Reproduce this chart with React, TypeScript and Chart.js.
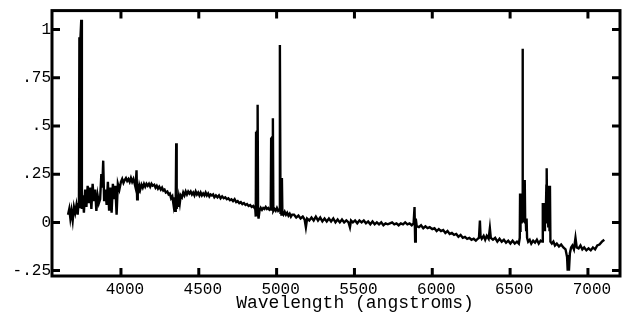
import { useEffect, useRef } from 'react';
import { Chart, registerables } from 'chart.js';

Chart.register(...registerables);

// [wavelength (Å), relative flux] by spectral region
const blueSpectrum: [number, number][] = [
  [3660, 0.04], [3668, 0.07], [3675, 0.02], [3682, 0.06], [3690, 0.01], [3698, 0.08], [3706, 0.05],
  [3714, 0.09], [3722, 0.04], [3727, 0.1], [3730, 0.08], [3733, 0.96], [3737, 0.08], [3740, 0.96],
  [3745, 1.05], [3749, 0.07],
  [3755, 0.14], [3762, 0.05], [3770, 0.17], [3778, 0.08], [3786, 0.19], [3794, 0.1], [3802, 0.18],
  [3810, 0.07], [3818, 0.2], [3826, 0.11], [3834, 0.17], [3842, 0.06], [3850, 0.14], [3858, 0.1],
  [3866, 0.12], [3874, 0.25], [3880, 0.18], [3886, 0.32], [3892, 0.11], [3900, 0.17], [3908, 0.09],
  [3916, 0.21], [3924, 0.06], [3932, 0.18], [3940, 0.05], [3948, 0.2], [3956, 0.12], [3964, 0.19],
  [3972, 0.04], [3980, 0.2], [3990, 0.17],
];

const violetSpectrum: [number, number][] = [
  [4000, 0.21], [4008, 0.225], [4016, 0.205], [4024, 0.22], [4032, 0.23], [4040, 0.215], [4048, 0.225],
  [4056, 0.21], [4064, 0.23], [4072, 0.21], [4080, 0.225], [4088, 0.2], [4094, 0.18], [4100, 0.27],
  [4104, 0.12], [4108, 0.2], [4112, 0.15], [4118, 0.19], [4124, 0.17], [4132, 0.195], [4140, 0.18],
  [4148, 0.2], [4156, 0.185], [4164, 0.2], [4172, 0.19], [4180, 0.2], [4188, 0.185], [4196, 0.2],
  [4204, 0.19], [4214, 0.195], [4222, 0.18], [4230, 0.19], [4238, 0.175], [4246, 0.185], [4256, 0.17],
  [4264, 0.18], [4272, 0.165], [4280, 0.17], [4288, 0.155], [4298, 0.16], [4306, 0.145], [4314, 0.15],
  [4322, 0.125], [4330, 0.135], [4338, 0.09], [4344, 0.13], [4348, 0.06], [4352, 0.12], [4355, 0.41],
  [4358, 0.07], [4362, 0.12], [4366, 0.08], [4372, 0.13], [4378, 0.1], [4384, 0.14], [4392, 0.13],
  [4400, 0.155], [4408, 0.14], [4416, 0.16], [4424, 0.145], [4432, 0.16], [4440, 0.15], [4448, 0.16],
  [4456, 0.145], [4464, 0.155], [4472, 0.14], [4480, 0.16], [4488, 0.145], [4496, 0.155],
];

const greenSpectrum: [number, number][] = [
  [4504, 0.14], [4512, 0.155], [4520, 0.14], [4528, 0.15], [4536, 0.14], [4544, 0.155], [4552, 0.14],
  [4560, 0.15], [4568, 0.135], [4576, 0.145], [4584, 0.14], [4592, 0.145], [4600, 0.13], [4610, 0.14],
  [4620, 0.13], [4630, 0.14], [4640, 0.125], [4650, 0.135], [4660, 0.125], [4670, 0.13], [4680, 0.12],
  [4690, 0.125], [4700, 0.115], [4710, 0.12], [4720, 0.11], [4730, 0.12], [4740, 0.105], [4750, 0.11],
  [4760, 0.1], [4770, 0.105], [4780, 0.095], [4790, 0.1], [4800, 0.09], [4810, 0.095], [4820, 0.085],
  [4830, 0.09], [4840, 0.08], [4850, 0.085], [4858, 0.075], [4862, 0.08], [4866, 0.03], [4868, 0.47],
  [4871, 0.05], [4874, 0.47], [4878, 0.61], [4881, 0.04], [4884, 0.02], [4890, 0.06], [4898, 0.075],
  [4906, 0.065], [4914, 0.075], [4922, 0.07], [4930, 0.08], [4938, 0.07], [4946, 0.075], [4954, 0.065],
  [4962, 0.07], [4965, 0.44], [4969, 0.06], [4972, 0.44], [4976, 0.54], [4979, 0.06], [4986, 0.07],
  [4994, 0.06], [5002, 0.075], [5010, 0.06], [5016, 0.065], [5021, 0.92], [5025, 0.05], [5028, 0.23],
  [5031, 0.04], [5034, 0.23], [5037, 0.05], [5044, 0.04], [5052, 0.055], [5060, 0.04], [5068, 0.05],
  [5076, 0.035], [5084, 0.045], [5092, 0.03], [5100, 0.04],
];

const yellowSpectrum: [number, number][] = [
  [5112, 0.04], [5126, 0.025], [5140, 0.035], [5154, 0.02], [5168, 0.03], [5180, 0.015], [5188, -0.025],
  [5196, 0.02], [5210, 0.01], [5224, 0.025], [5238, 0.01], [5252, 0.03], [5266, 0.01], [5280, 0.025],
  [5294, 0.005], [5308, 0.02], [5322, 0.005], [5336, 0.02], [5350, 0.005], [5364, 0.02], [5378, 0],
  [5392, 0.015], [5406, 0], [5420, 0.015], [5434, 0], [5448, 0.01], [5462, 0], [5471, -0.025],
  [5478, 0.01], [5490, 0], [5504, 0.01], [5518, -0.005], [5532, 0.01], [5546, 0], [5560, 0.01],
  [5574, -0.005], [5588, 0.005], [5602, -0.01], [5616, 0.005], [5630, -0.01], [5644, 0], [5658, -0.01],
  [5672, 0], [5686, -0.015], [5700, -0.005], [5714, -0.01], [5728, -0.005], [5742, 0], [5756, -0.01],
  [5770, -0.005], [5784, -0.015], [5798, -0.005], [5812, -0.01], [5826, 0], [5840, -0.01],
  [5854, -0.005], [5868, -0.015], [5880, -0.005], [5886, 0.08], [5890, -0.1], [5894, 0.02],
];

const redSpectrum: [number, number][] = [
  [5900, -0.02], [5914, -0.025], [5928, -0.015], [5942, -0.03], [5956, -0.02], [5970, -0.03],
  [5984, -0.025], [6000, -0.035], [6014, -0.03], [6028, -0.045], [6042, -0.035], [6056, -0.045],
  [6070, -0.04], [6084, -0.055], [6098, -0.045], [6112, -0.06], [6126, -0.055], [6140, -0.065],
  [6154, -0.06], [6168, -0.075], [6182, -0.065], [6196, -0.08], [6210, -0.075], [6224, -0.085],
  [6238, -0.08], [6252, -0.09], [6266, -0.085], [6280, -0.095], [6292, -0.085], [6300, -0.08],
  [6306, 0.01], [6310, -0.07], [6318, -0.085], [6330, -0.07], [6340, -0.09], [6350, -0.07],
  [6362, -0.085], [6370, -0.03], [6376, -0.08], [6390, -0.09], [6404, -0.08], [6418, -0.1],
  [6432, -0.085], [6446, -0.1], [6460, -0.09], [6474, -0.105], [6488, -0.095], [6502, -0.11],
  [6516, -0.095], [6530, -0.11], [6544, -0.1], [6556, -0.11],
];

const deepRedSpectrum: [number, number][] = [
  [6562, -0.08], [6564, 0.15], [6566, -0.05], [6568, 0.15], [6571, 0.0], [6574, 0.15], [6577, 0.05],
  [6580, 0.9], [6582, 0.1], [6584, 0.22], [6586, 0.0], [6588, 0.22], [6591, 0.02], [6594, 0.22],
  [6597, 0.0], [6600, 0.02], [6603, -0.04], [6606, 0.02], [6609, -0.08], [6616, -0.1], [6626, -0.09],
  [6636, -0.11], [6648, -0.095], [6660, -0.105], [6672, -0.09], [6684, -0.11], [6696, -0.095],
  [6706, -0.1], [6710, 0.1], [6713, -0.04], [6716, 0.1], [6720, -0.04], [6724, 0.1], [6728, 0.0],
  [6733, 0.19], [6735, 0.28], [6738, 0.0], [6741, 0.19], [6745, -0.02], [6749, 0.19], [6753, -0.04],
  [6756, 0.19], [6759, -0.1], [6768, -0.11], [6778, -0.1], [6788, -0.12], [6800, -0.11],
  [6814, -0.125], [6828, -0.115], [6842, -0.13], [6856, -0.14], [6866, -0.18], [6870, -0.25],
  [6874, -0.17], [6878, -0.25], [6884, -0.16], [6892, -0.13], [6900, -0.12], [6910, -0.14],
  [6920, -0.08], [6928, -0.13], [6940, -0.135], [6952, -0.12], [6964, -0.14], [6976, -0.13],
  [6990, -0.145], [7004, -0.135], [7018, -0.145], [7032, -0.13], [7046, -0.14], [7060, -0.12],
  [7074, -0.115], [7090, -0.1], [7105, -0.09],
];

const xTickValues = [4000, 4500, 5000, 5500, 6000, 6500, 7000];
const yTickValues = [1, 0.75, 0.5, 0.25, 0, -0.25];
const yTickLabels = ['1', '.75', '.5', '.25', '0', '-.25'];
const xAxisTitle = 'Wavelength (angstroms)';

const FONT = '"Liberation Mono", "DejaVu Sans Mono", monospace';

const framePlugin = {
  id: 'frameTicks',
  afterDraw(chart: any) {
    const { ctx, chartArea: a, scales } = chart;
    ctx.save();
    ctx.strokeStyle = '#000';
    ctx.lineWidth = 3;
    ctx.strokeRect(a.left, a.top, a.right - a.left, a.bottom - a.top);
    const len = 8;
    ctx.beginPath();
    for (const v of xTickValues) {
      const x = scales.x.getPixelForValue(v);
      ctx.moveTo(x, a.bottom);
      ctx.lineTo(x, a.bottom - len);
      ctx.moveTo(x, a.top);
      ctx.lineTo(x, a.top + len);
    }
    for (const v of yTickValues) {
      const y = scales.y.getPixelForValue(v);
      ctx.moveTo(a.left, y);
      ctx.lineTo(a.left + len, y);
      ctx.moveTo(a.right, y);
      ctx.lineTo(a.right - len, y);
    }
    ctx.stroke();
    ctx.font = `18px ${FONT}`;
    ctx.fillStyle = '#000';
    ctx.textAlign = 'center';
    ctx.textBaseline = 'middle';
    ctx.fillText(xAxisTitle, a.left + 303, a.bottom + 27);
    ctx.restore();
  },
};

export default function App() {
  const ref = useRef<HTMLCanvasElement>(null);
  useEffect(() => {
    if (!ref.current) return;
    const points = [
      ...blueSpectrum,
      ...violetSpectrum,
      ...greenSpectrum,
      ...yellowSpectrum,
      ...redSpectrum,
      ...deepRedSpectrum,
    ].map(([x, y]) => ({ x, y }));
    const chart = new Chart(ref.current, {
      type: 'line',
      data: {
        datasets: [
          {
            data: points,
            borderColor: '#000',
            borderWidth: 2.4,
            pointRadius: 0,
            fill: false,
            tension: 0,
          },
        ],
      },
      options: {
        animation: false,
        responsive: false,
        devicePixelRatio: 1,
        layout: { padding: { top: 9, right: 3, left: 0, bottom: 0 } },
        plugins: { legend: { display: false }, tooltip: { enabled: false } },
        scales: {
          x: {
            type: 'linear',
            min: 3557,
            max: 7206,
            afterBuildTicks: (s: any) => {
              s.ticks = xTickValues.map((value) => ({ value }));
            },
            afterFit: (s: any) => {
              s.height = 45;
            },
            grid: { display: false, drawTicks: false },
            border: { display: false },
            ticks: {
              color: '#000',
              font: { family: FONT, size: 16 },
              padding: 4,
              labelOffset: 4,
              maxRotation: 0,
              autoSkip: false,
              callback: (v: any) => String(v),
            },
          },
          y: {
            type: 'linear',
            min: -0.278,
            max: 1.098,
            afterBuildTicks: (s: any) => {
              s.ticks = yTickValues.map((value) => ({ value }));
            },
            afterFit: (s: any) => {
              s.width = 52;
            },
            grid: { display: false, drawTicks: false },
            border: { display: false },
            ticks: {
              color: '#000',
              font: { family: FONT, size: 16 },
              padding: 1,
              autoSkip: false,
              callback: (v: any) => {
                const i = yTickValues.indexOf(v);
                return i >= 0 ? yTickLabels[i] : '';
              },
            },
          },
        },
      },
      plugins: [framePlugin],
    });
    return () => chart.destroy();
  }, []);
  return (
    <div style={{ position: 'fixed', left: 0, top: 0, width: 623, height: 321, background: '#fff' }}>
      <canvas ref={ref} width={623} height={321} />
    </div>
  );
}
